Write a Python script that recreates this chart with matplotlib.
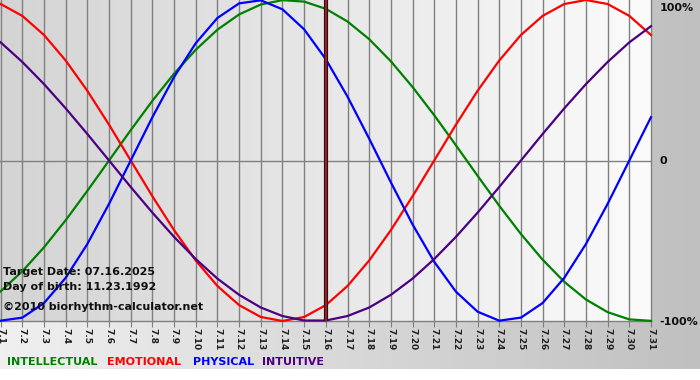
import numpy as np
import matplotlib
matplotlib.use("Agg")
import matplotlib.pyplot as plt
from matplotlib.colors import LinearSegmentedColormap

# ---- data (July 1..31) ----
days = list(range(1, 32))
day_labels = ["7.%d" % d for d in days]

physical = [-0.998, -0.979, -0.888, -0.731, -0.520, -0.270, 0.0, 0.270, 0.520, 0.731,
            0.888, 0.979, 0.998, 0.942, 0.817, 0.631, 0.398, 0.136, -0.136, -0.398,
            -0.631, -0.817, -0.942, -0.998, -0.979, -0.888, -0.731, -0.520, -0.270, 0.0,
            0.270]
emotional = [0.975, 0.901, 0.782, 0.623, 0.434, 0.223, 0.0, -0.223, -0.434, -0.623,
             -0.782, -0.901, -0.975, -1.0, -0.975, -0.901, -0.782, -0.623, -0.434, -0.223,
             0.0, 0.223, 0.434, 0.623, 0.782, 0.901, 0.975, 1.0, 0.975, 0.901,
             0.782]
intellectual = [-0.815, -0.690, -0.541, -0.372, -0.189, 0.0, 0.189, 0.372, 0.541, 0.690,
                0.815, 0.910, 0.972, 0.999, 0.990, 0.945, 0.866, 0.756, 0.618, 0.458,
                0.282, 0.095, -0.095, -0.282, -0.458, -0.618, -0.756, -0.866, -0.945, -0.990,
                -0.999]
intuitive = [0.736, 0.614, 0.476, 0.325, 0.165, 0.0, -0.165, -0.325, -0.476, -0.614,
             -0.736, -0.837, -0.916, -0.969, -0.997, -0.997, -0.969, -0.916, -0.837, -0.736,
             -0.614, -0.476, -0.325, -0.165, 0.0, 0.165, 0.325, 0.476, 0.614, 0.736,
             0.837]
target_day = 16

series_names = ["INTELLECTUAL", "EMOTIONAL", "PHYSICAL", "INTUITIVE"]
series_colors = ["#008000", "#ff0000", "#0000ff", "#4b0082"]

W, H = 700, 380
fig = plt.figure(figsize=(7, 3.8), dpi=100)
fig.patch.set_facecolor("white")

def px(x0, y0, w, h):
    return [x0 / W, 1 - (y0 + h) / H, w / W, h / H]

# outer gradient background
bg = fig.add_axes(px(0, 0, 700, 369), zorder=-10)
cm_out = LinearSegmentedColormap.from_list("o", ["#f0f0f0", "#c0c0c0"])
bg.imshow(np.linspace(0, 1, 256)[None, :], cmap=cm_out, aspect="auto",
          extent=[0, 1, 0, 1])
bg.set_axis_off()

# plot area
ax = fig.add_axes(px(0, 0, 651, 321), zorder=1)
ax.patch.set_alpha(0)
xmin, xmax = 0.97, 31.0
ymin, ymax = -1.0, 1.0
cm_in = LinearSegmentedColormap.from_list("i", ["#d4d4d4", "#fbfbfb"])
ax.imshow(np.linspace(0, 1, 256)[None, :], cmap=cm_in, aspect="auto",
          extent=[xmin, xmax, ymin, ymax], zorder=0)
ax.set_xlim(xmin, xmax)
ax.set_ylim(ymin, ymax)

for d in days:
    ax.axvline(d, color="#808080", lw=1, zorder=1, clip_on=False)
ax.axhline(0, color="#808080", lw=1, zorder=1)

for vals, c in zip([intellectual, emotional, physical, intuitive], series_colors):
    ax.plot(days, vals, color=c, lw=1.6, zorder=3, clip_on=False,
            solid_joinstyle="round")

ax.axvline(target_day, color="#3a0a0a", lw=3, zorder=4)
ax.axvline(target_day, color="#a02838", lw=1.2, zorder=5)

for s in ["top", "right", "left"]:
    ax.spines[s].set_visible(False)
ax.spines["bottom"].set_color("#808080")
ax.spines["bottom"].set_linewidth(1)
ax.set_yticks([])
ax.set_xticks(days)
ax.set_xticklabels(day_labels, rotation=-90, fontsize=6.5, fontweight="bold",
                   color="#202020")
ax.tick_params(axis="x", length=4, color="#808080", pad=1)

# right-side percent labels
fig.text(660 / W, 1 - 8 / H, "100%", fontsize=8, fontweight="bold",
         va="center", ha="left", color="#101010")
fig.text(659 / W, 1 - 161 / H, "0", fontsize=8, fontweight="bold",
         va="center", ha="left", color="#101010")
fig.text(659 / W, 1 - 322 / H, "-100%", fontsize=8, fontweight="bold",
         va="center", ha="left", color="#101010")

# overlay info text
info = ["Target Date: 07.16.2025", "Day of birth: 11.23.1992",
        "©2010 biorhythm-calculator.net"]
for t, yc in zip(info, [272, 287, 307]):
    fig.text(3 / W, 1 - yc / H, t, fontsize=8, fontweight="bold",
             va="center", ha="left", color="#101010", zorder=10)

# legend
xs = [7, 107, 193, 262]
for name, c, x in zip(series_names, series_colors, xs):
    fig.text(x / W, 1 - 362 / H, name, fontsize=8, fontweight="bold",
             va="center", ha="left", color=c)

fig.savefig("out.png", dpi=100, facecolor=fig.get_facecolor())
